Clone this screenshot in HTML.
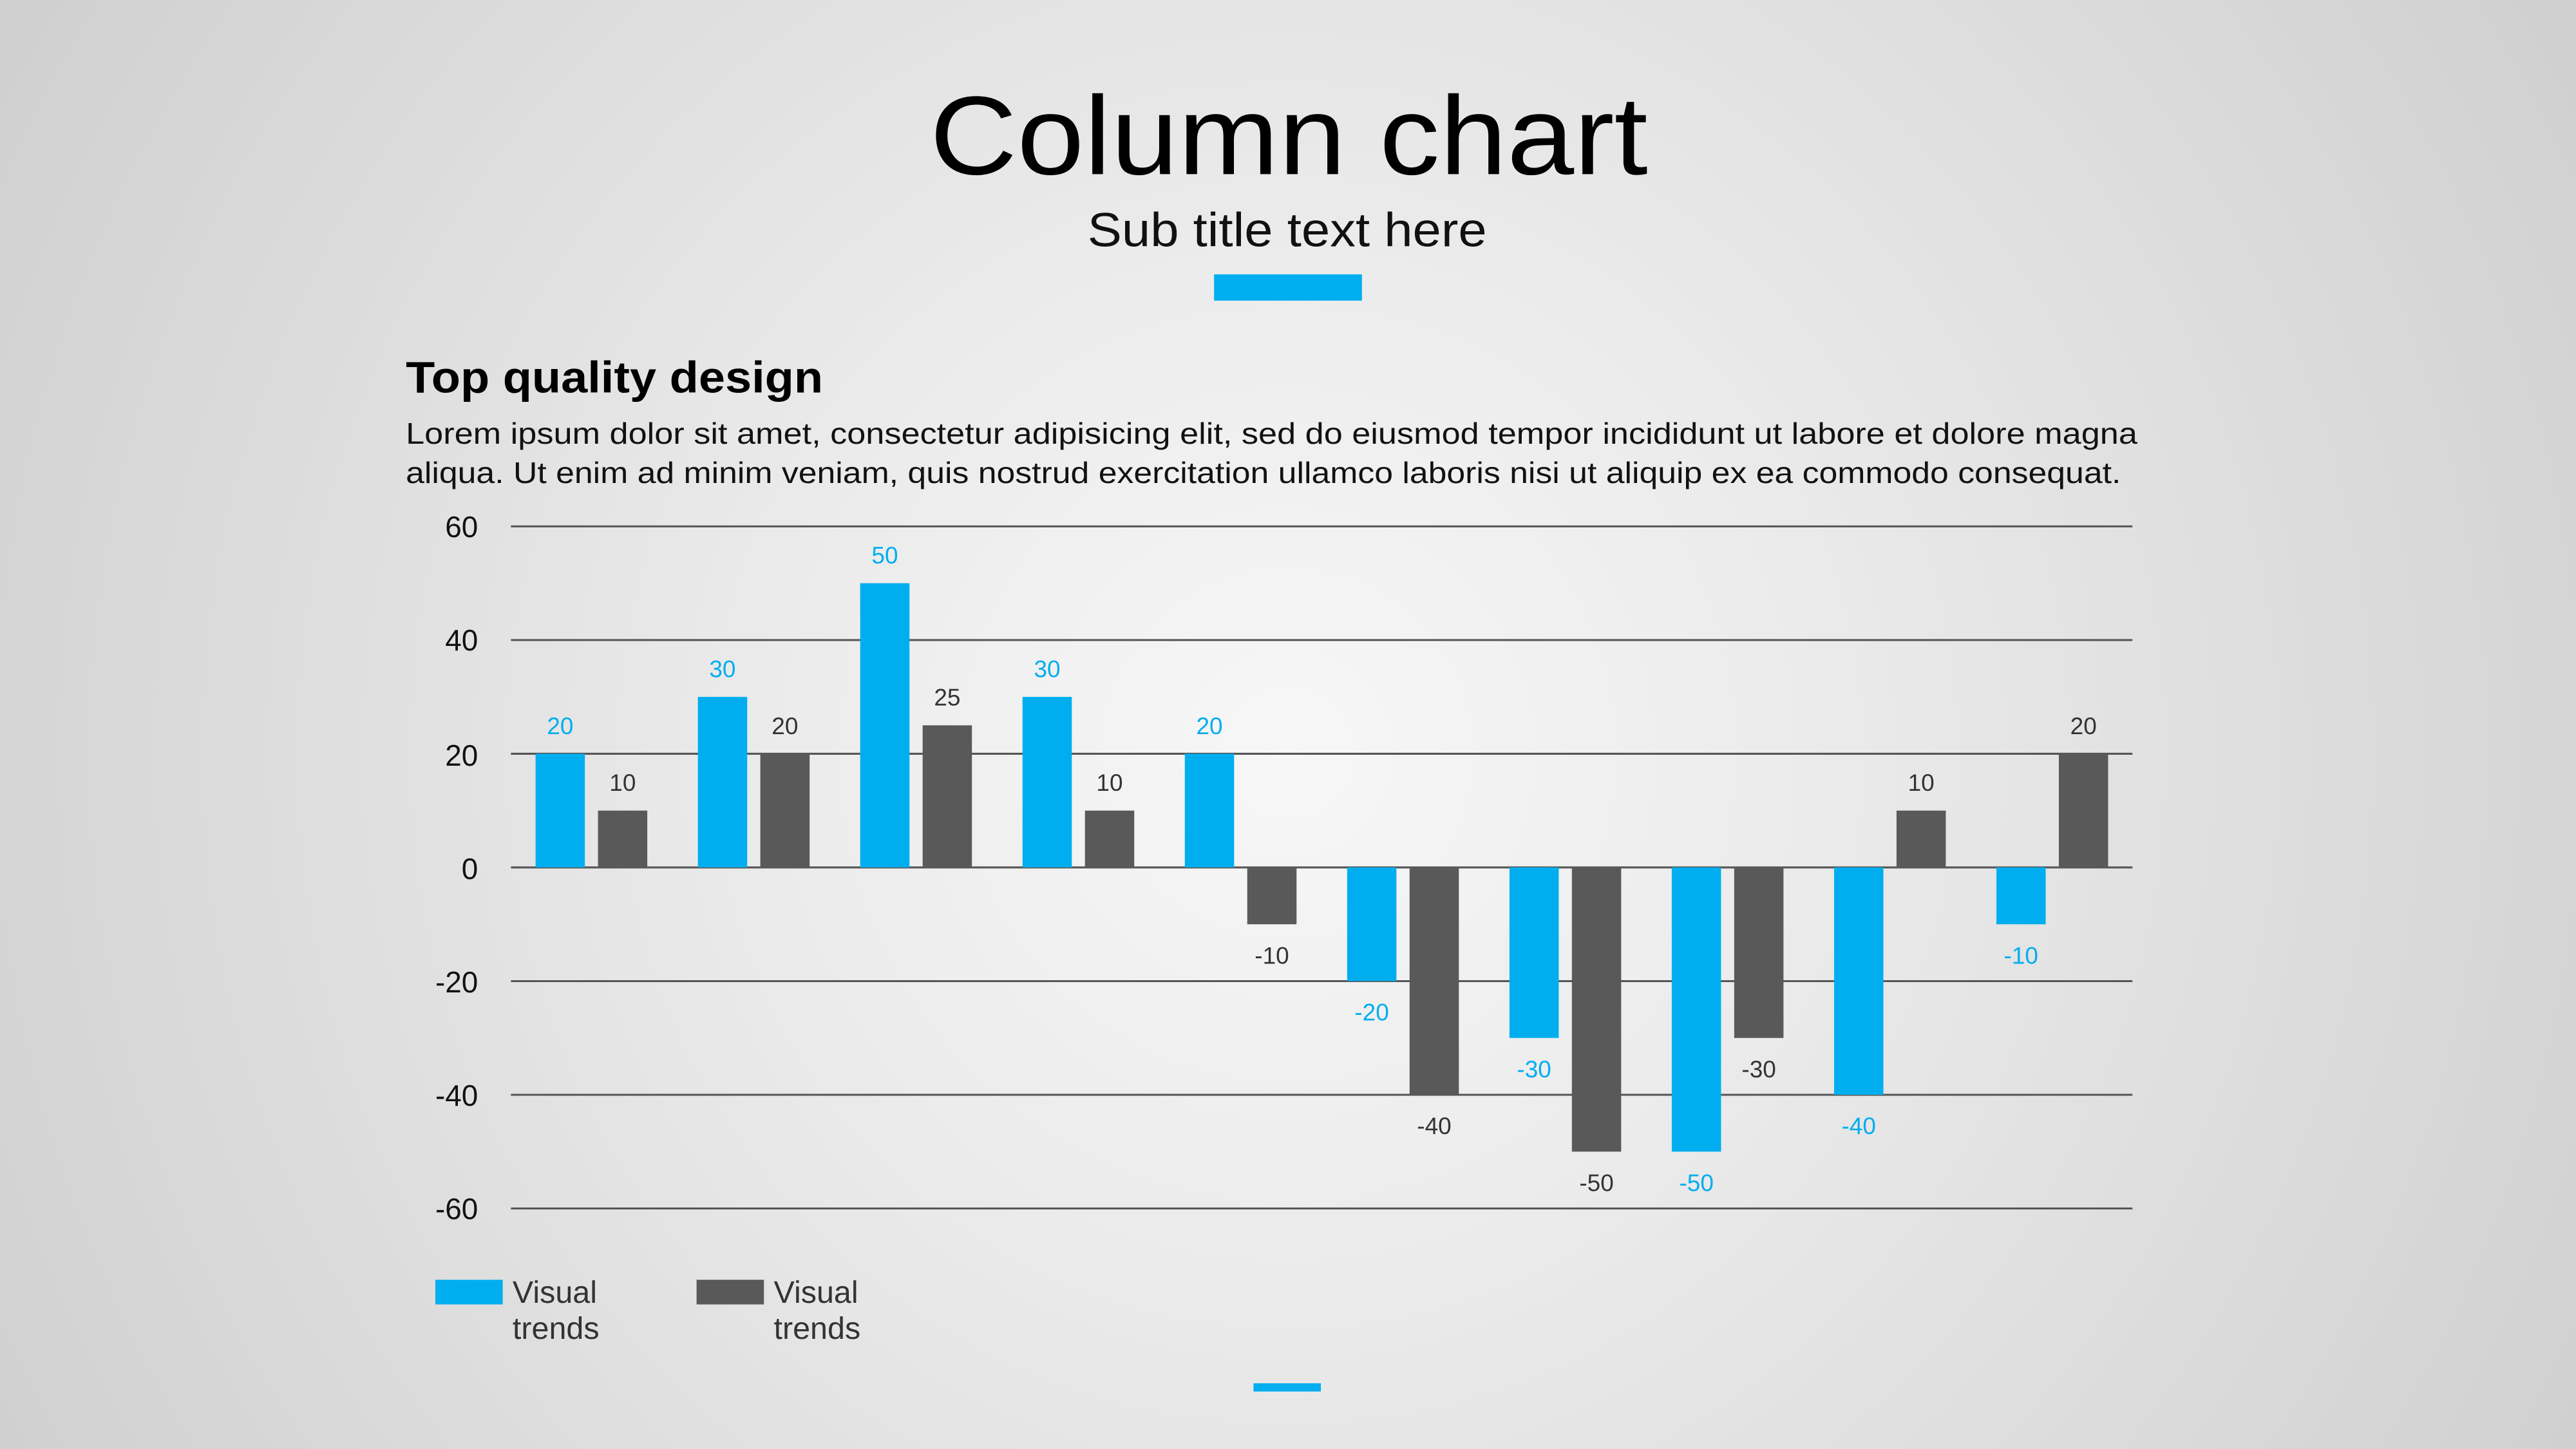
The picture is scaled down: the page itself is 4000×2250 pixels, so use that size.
<!DOCTYPE html>
<html><head><meta charset="utf-8"><style>
html,body{margin:0;padding:0;width:4000px;height:2250px;overflow:hidden}
body{background:radial-gradient(circle at 50% 52%,#f7f7f7 0%,#ebebeb 35%,#cfcfcf 100%)}
svg{display:block}
text{font-family:"Liberation Sans",sans-serif}
</style></head><body>
<svg width="4000" height="2250" viewBox="0 0 1568 882" xmlns="http://www.w3.org/2000/svg">
<text x="566" y="106" font-size="68" fill="#000" textLength="437" lengthAdjust="spacingAndGlyphs">Column chart</text>
<text x="662" y="150" font-size="29" fill="#111" textLength="243" lengthAdjust="spacingAndGlyphs">Sub title text here</text>
<rect x="739" y="167" width="90" height="16" fill="#00aeef"/>
<text x="247" y="239" font-size="27" font-weight="bold" fill="#000" textLength="254" lengthAdjust="spacingAndGlyphs">Top quality design</text>
<text x="247" y="270" font-size="18.3" fill="#111" textLength="1054" lengthAdjust="spacingAndGlyphs">Lorem ipsum dolor sit amet, consectetur adipisicing elit, sed do eiusmod tempor incididunt ut labore et dolore magna</text>
<text x="247" y="294" font-size="18.3" fill="#111" textLength="1044" lengthAdjust="spacingAndGlyphs">aliqua. Ut enim ad minim veniam, quis nostrud exercitation ullamco laboris nisi ut aliquip ex ea commodo consequat.</text>
<g stroke="#555" stroke-width="1.2">
<line x1="311" x2="1298" y1="320.4" y2="320.4"/><line x1="311" x2="1298" y1="389.6" y2="389.6"/>
<line x1="311" x2="1298" y1="458.8" y2="458.8"/><line x1="311" x2="1298" y1="528" y2="528"/>
<line x1="311" x2="1298" y1="597.2" y2="597.2"/><line x1="311" x2="1298" y1="666.4" y2="666.4"/>
<line x1="311" x2="1298" y1="735.6" y2="735.6"/>
</g>
<g font-size="18" fill="#111" text-anchor="end">
<text x="291" y="327">60</text><text x="291" y="396">40</text><text x="291" y="466">20</text>
<text x="291" y="535">0</text><text x="291" y="604">-20</text><text x="291" y="673">-40</text><text x="291" y="742">-60</text>
</g>
<g id="bars"></g>
<rect x="265" y="779" width="41" height="15" fill="#00aeef"/>
<text x="312" y="793" font-size="19" fill="#333">Visual</text><text x="312" y="815" font-size="19" fill="#333">trends</text>
<rect x="424" y="779" width="41" height="15" fill="#595959"/>
<text x="471" y="793" font-size="19" fill="#333">Visual</text><text x="471" y="815" font-size="19" fill="#333">trends</text>
<rect x="763" y="842" width="41" height="5" fill="#00aeef"/>
</svg>
<script>
var b=[20,30,50,30,20,-20,-30,-50,-40,-10],g=[10,20,25,10,-10,-40,-50,-30,10,20];
var s='',k=3.46;
function bar(x,v,c,tc){var y=528-v*k;var top=Math.min(y,528),h=Math.abs(v*k);
s+='<rect x="'+x+'" y="'+top+'" width="30" height="'+h+'" fill="'+c+'"/>';
var ty=v>0?y-12:y+24;
s+='<text x="'+(x+15)+'" y="'+ty+'" text-anchor="middle" font-size="14.5" fill="'+tc+'">'+v+'</text>';}
for(var i=0;i<10;i++){var x=326+i*98.8;bar(x,b[i],'#00aeef','#00aeef');bar(x+38,g[i],'#595959','#333');}
document.getElementById('bars').innerHTML=s;
</script>
</body></html>
